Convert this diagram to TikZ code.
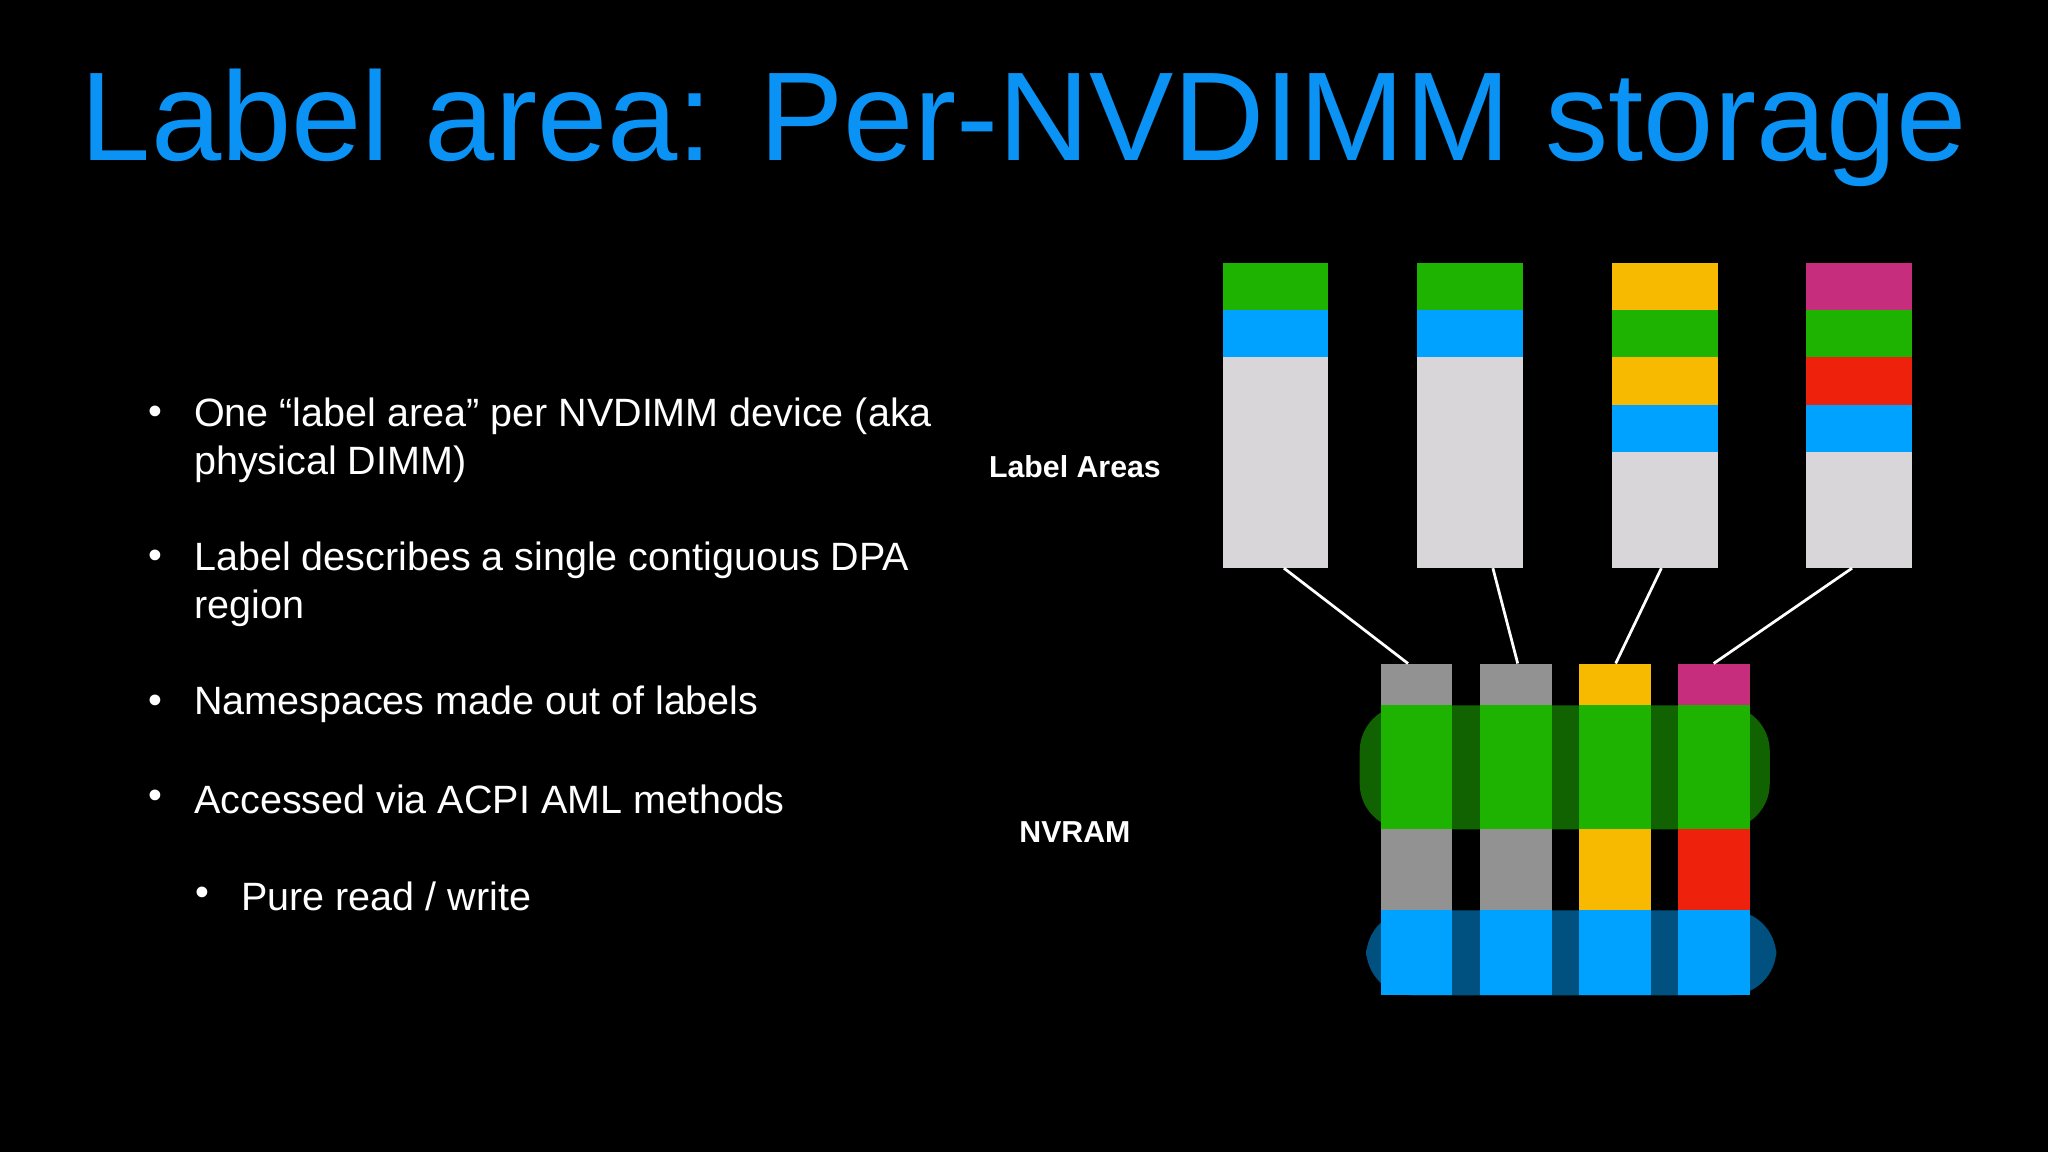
\documentclass[tikz,border=0pt]{standalone}
\usepackage{fontspec}
\setmainfont{Liberation Sans}
\begin{document}
\begin{tikzpicture}[x=0.01cm,y=-0.01cm,
  txt/.style={text=white,font=\fontsize{8.6pt}{10.5pt}\selectfont,anchor=west,inner sep=0},
  lab/.style={text=white,font=\bfseries\fontsize{6.6pt}{8pt}\selectfont,inner sep=0},
  link/.style={draw=white,line width=0.6pt}]
\definecolor{tblue}{HTML}{0A93F5}
\definecolor{cgreen}{HTML}{1EB300}
\definecolor{cblue}{HTML}{00A2FF}
\definecolor{clgrey}{HTML}{D8D6D9}
\definecolor{cyellow}{HTML}{F8BA00}
\definecolor{cmag}{HTML}{C62D7C}
\definecolor{cred}{HTML}{EE220C}
\definecolor{cgrey}{HTML}{929292}
\fill[black] (0,0) rectangle (1568,882);
\useasboundingbox (0,0) rectangle (1568,882);
\node[text=tblue,font=\fontsize{27.5pt}{30pt}\selectfont,inner sep=0] (title) at (784,98) {Label area: Per-NVDIMM storage};
% bullets
\foreach \y in {318,428,539,612} \node[text=white,font=\fontsize{8.6pt}{10pt}\selectfont,inner sep=0] at (119,\y) {•};
\node[text=white,font=\fontsize{8.6pt}{10pt}\selectfont,inner sep=0] at (155,686) {•};
\node[txt,anchor=north west,align=left] (b1) at (148,304) {One “label area” per NVDIMM device (aka\\physical DIMM)};
\node[txt,anchor=north west,align=left] (b2) at (148,414) {Label describes a single contiguous DPA\\region};
\node[txt] (b3) at (148,539) {Namespaces made out of labels};
\node[txt] (b4) at (148,612) {Accessed via ACPI AML methods};
\node[txt] (b5) at (184,686) {Pure read / write};
\node[lab] (la) at (823,357) {Label Areas};
\node[lab] (nv) at (823,637) {NVRAM};
% label area columns
\newcommand\colbar[6]{%
 \fill[#2] (#1,201) rectangle +(81,37);
 \fill[#3] (#1,237) rectangle +(81,37);
 \fill[#4] (#1,273) rectangle +(81,37);
 \fill[#5] (#1,310) rectangle +(81,37);
 \fill[#6] (#1,346) rectangle +(81,89);}
\colbar{936}{cgreen}{cblue}{clgrey}{clgrey}{clgrey}
\colbar{1085}{cgreen}{cblue}{clgrey}{clgrey}{clgrey}
\colbar{1234}{cyellow}{cgreen}{cyellow}{cblue}{clgrey}
\colbar{1383}{cmag}{cgreen}{cred}{cblue}{clgrey}
% nvram
\newcommand\nvcol[3]{%
 \fill[#2] (#1,508) rectangle +(55,32);
 \fill[cgreen] (#1,540) rectangle +(55,95);
 \fill[#3] (#1,635) rectangle +(55,62);
 \fill[cblue] (#1,697) rectangle +(55,65);}
\fill[cgreen!55!black,rounded corners=10] (1041,540) rectangle (1355,635);
\fill[cblue!50!black,rounded corners=10] (1046,697) rectangle (1360,762);
\nvcol{1057}{cgrey}{cgrey}
\nvcol{1133}{cgrey}{cgrey}
\nvcol{1209}{cyellow}{cyellow}
\nvcol{1285}{cmag}{cred}
\coordinate (a1) at (983,435); \coordinate (n1) at (1078,508);
\coordinate (a2) at (1143,435); \coordinate (n2) at (1162,508);
\coordinate (a3) at (1272,435); \coordinate (n3) at (1237,508);
\coordinate (a4) at (1418,435); \coordinate (n4) at (1312,508);
\draw[link] (a1) -- (n1); \draw[link] (a2) -- (n2);
\draw[link] (a3) -- (n3); \draw[link] (a4) -- (n4);
\end{tikzpicture}
\end{document}
